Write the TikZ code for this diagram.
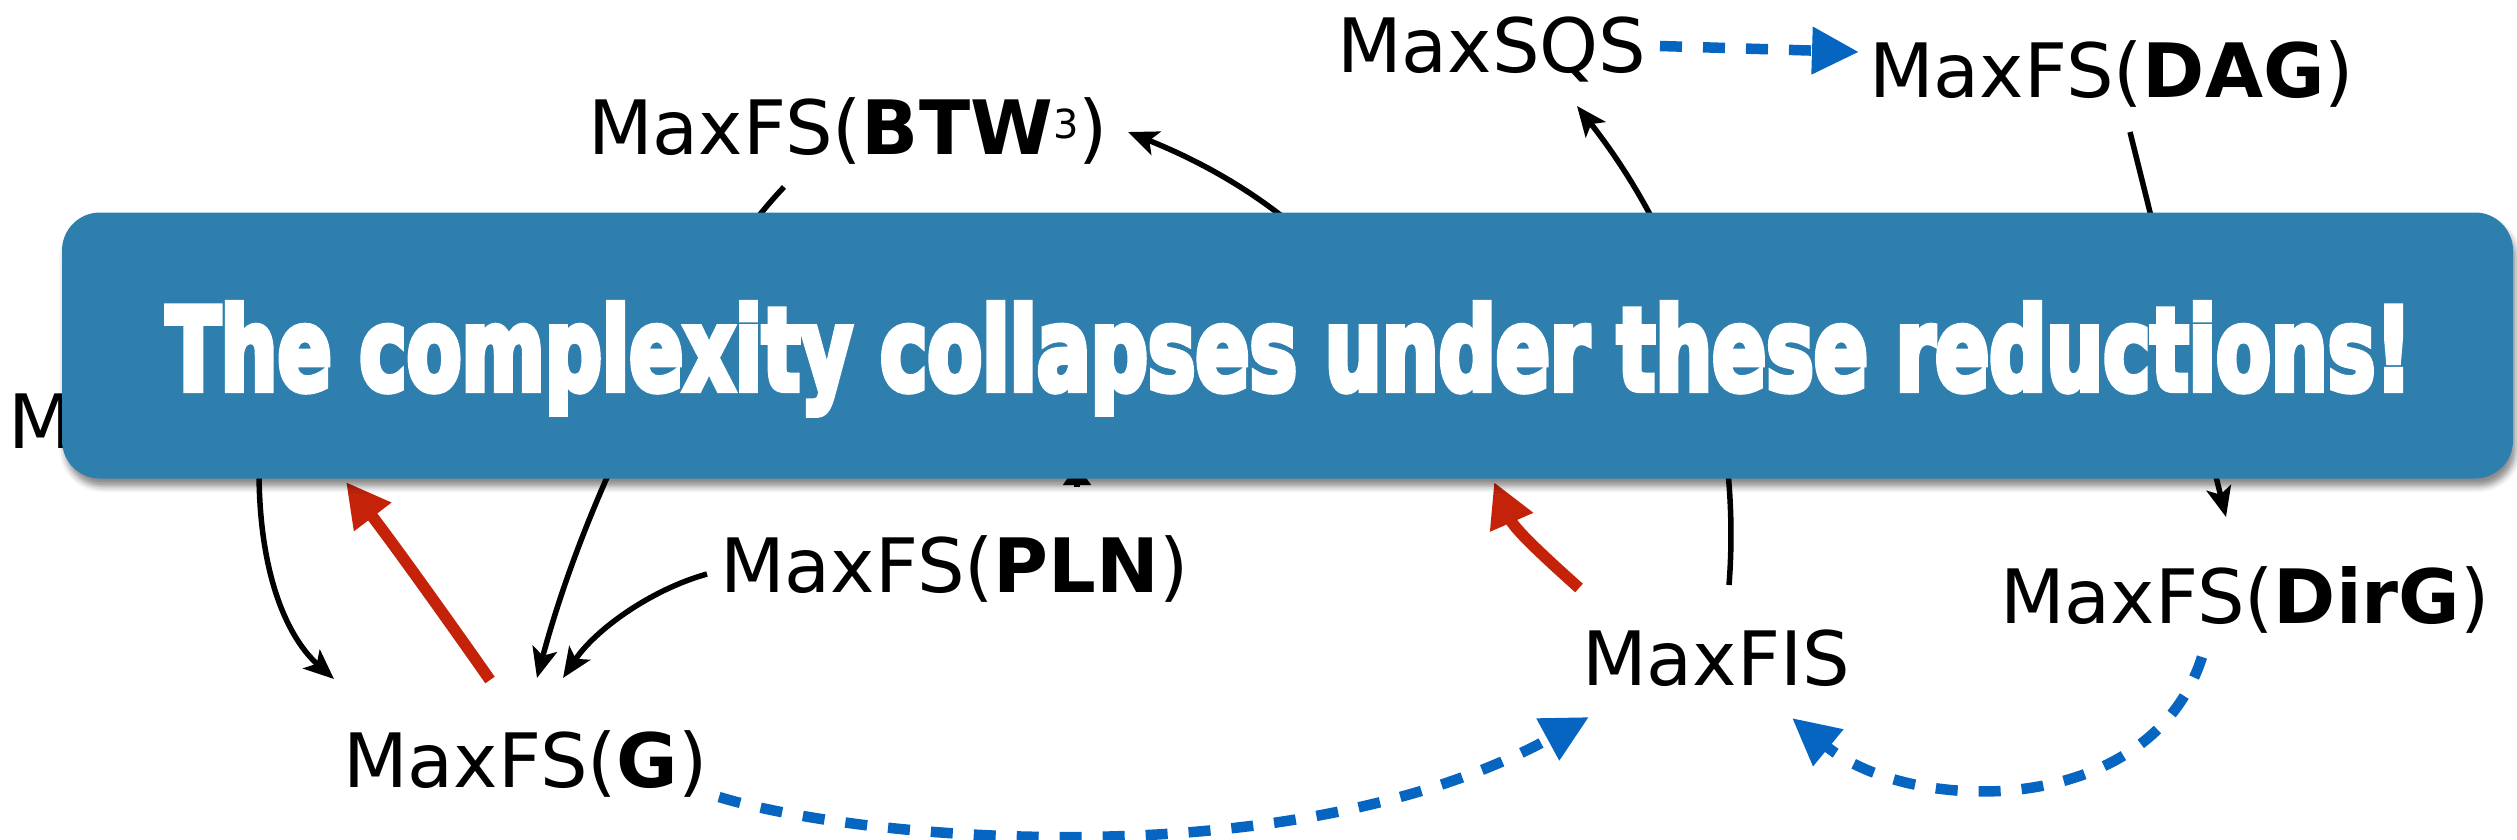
\documentclass[tikz,border=0pt]{standalone}
\usepackage{fontspec}
\setmainfont{DejaVu Sans}
\newfontfamily\bannerfont{DejaVu Sans Condensed}[FakeBold=5.5]
\usetikzlibrary{arrows.meta,calc,shadows.blur}
\definecolor{bannerblue}{RGB}{46,126,174}
\definecolor{dashblue}{RGB}{6,101,192}
\definecolor{redarrow}{RGB}{197,34,10}
\begin{document}
\begin{tikzpicture}[x=1pt,y=-1pt,
  lbl/.style={font=\fontsize{75}{90}\selectfont, inner sep=0pt, anchor=base west},
  blk/.style={line width=5.5pt, black, -{Stealth[length=30pt,width=25pt,inset=7pt]}},
  bluedash/.style={line width=10.5pt, dashblue, dash pattern=on 22pt off 21pt, -{Triangle[length=47pt,width=45pt]}},
  redthick/.style={line width=11.5pt, redarrow, -{Triangle[length=44pt,width=44pt]}},
  banner/.style={fill=bannerblue, rounded corners=38pt, minimum width=2451pt, minimum height=266pt, inner sep=0pt,
    blur shadow={shadow xshift=3pt, shadow yshift=-8pt, shadow blur radius=6pt, shadow opacity=45}}]
\useasboundingbox (0,0) rectangle (2517,840);

% labels
\node[lbl] (sqs)  at (1337,73)  {MaxSQS};
\node[lbl] (dag)  at (1869,98)  {MaxFS(\textbf{DAG})};
\node[lbl] (btw)  at (588,155)  {MaxFS(\textbf{BTW}\raisebox{17pt}{\fontsize{40}{40}\selectfont 3})};
\node[lbl] (mh)   at (8,448)    {M};
\node[lbl] (pln)  at (720,592)  {MaxFS(\textbf{PLN})};
\node[lbl] (g)    at (343,787)  {MaxFS(\textbf{G})};
\node[lbl] (fis)  at (1582,685) {MaxFIS};
\node[lbl] (dirg) at (2000,623) {MaxFS(\textbf{DirG})};

% hidden ends under the banner
\coordinate (hidC) at (1310,240);
\coordinate (hidD) at (1077,487);
\coordinate (hidE) at (1077,465);
\coordinate (fisT) at (1494,482);

% black reductions
\draw[blk] ($(fis.base west)+(147,-100)$) .. controls (1742,420) and (1690,250) .. ($(sqs.base west)+(240,33)$);
\draw[blk] ($(btw.base west)+(196,32)$) .. controls (700,275) and (590,480) .. ($(g.base west)+(194,-109)$);
\draw[blk] ($(pln.base west)+(-13,-18)$) .. controls (650,590) and (595,630) .. ($(g.base west)+(220,-109)$);
\draw[blk] ($(mh.base west)+(251,22)$) .. controls (259,580) and (290,640) .. ($(g.base west)+(-9,-108)$);
\draw[blk] ($(dag.base west)+(261,34)$) -- ($(dirg.base west)+(226,-106)$);
\draw[blk] (hidC) .. controls (1250,185) and (1185,155) .. ($(btw.base west)+(540,-23)$);
\draw[line width=5.5pt, -{Triangle[length=20pt,width=27pt]}] (hidD) -- (hidE);

% red reductions
\draw[redthick] ($(g.base west)+(147,-107)$) .. controls (455,630) and (398,550) .. ($(mh.base west)+(338,34)$);
\draw[redthick] ($(fis.base west)+(-3,-97)$) .. controls (1550,562) and (1515,530) .. (fisT);

% blue dashed reductions
\draw[bluedash] ($(sqs.base west)+(323,-27)$) -- ($(dag.base west)+(-10,-46)$);
\draw[bluedash] ($(g.base west)+(376,10)$) .. controls (860,840) and (1290,880) .. ($(fis.base west)+(7,32)$);
\draw[bluedash] ($(dirg.base west)+(202,34)$) .. controls (2150,820) and (1910,815) .. ($(fis.base west)+(210,33)$);

% banner
\node[banner] (bnr) at (1287.5,345.5) {};
\node[inner sep=0pt, anchor=base west, text=white] (msg) at (166,390)
  {\resizebox{2245pt}{87pt}{\bannerfont\bfseries The complexity collapses under these reductions!}};
\end{tikzpicture}
\end{document}
